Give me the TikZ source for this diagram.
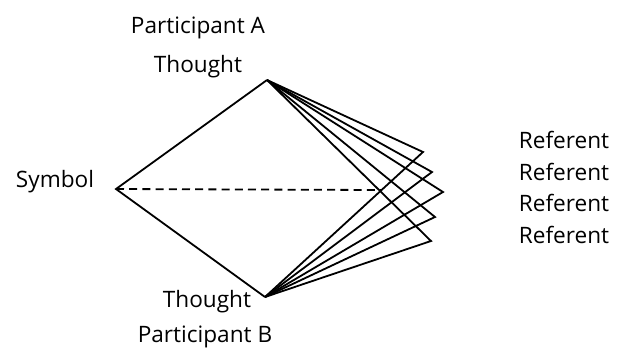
\documentclass[tikz,border=0pt]{standalone}
\usepackage{fontspec}
\setmainfont{Open Sans}
\usepackage{tikz}
\usetikzlibrary{
    positioning,
    calc
}

\begin{document}
\begin{tikzpicture}[
    x=0.5pt,
    y=-0.5pt,
    font=\fontsize{11.3}{13}\selectfont,
    line width=0.9pt,
    word/.style={anchor=base, inner sep=0pt},
    meaning/.style={dash pattern=on 4pt off 2.6pt}
]

\useasboundingbox (0,0) rectangle (618,350);

% =============================================================
% Corners of the triangle
% =============================================================

\coordinate (thoughtA) at (267,80);
\coordinate (thoughtB) at (265,297);
\coordinate (symbol)   at (116,189);

% Five referents fanned out on the right
\coordinate (ref1) at (423,152);
\coordinate (ref2) at (432,172);
\coordinate (ref3) at (443,192);
\coordinate (ref4) at (435,217);
\coordinate (ref5) at (431,241);

% End of the dashed symbol--referent line
\coordinate (meetPoint) at (381,190);

% =============================================================
% Lines
% =============================================================

\draw (thoughtA) -- (symbol) -- (thoughtB);

\draw[meaning] (symbol) -- (meetPoint);

\foreach \i in {1,...,5}{
    \draw[line join=miter]
    (thoughtA) -- (ref\i) -- (thoughtB);
}

% =============================================================
% Labels
% =============================================================

\node[word] (partA)  at (198,33)  {Participant A};
\node[word] (thA)    at (198,72)  {Thought};
\node[word] (sym)    at (55,187)  {Symbol};
\node[word] (thB)    at (207,307) {Thought};
\node[word] (partB)  at (205,342) {Participant B};

\foreach \i/\y in {1/148,2/180,3/211,4/243}{
    \node[
        word,
        anchor=base west
    ] (referent\i) at (518,\y)
    {Referent};
}

\end{tikzpicture}
\end{document}
